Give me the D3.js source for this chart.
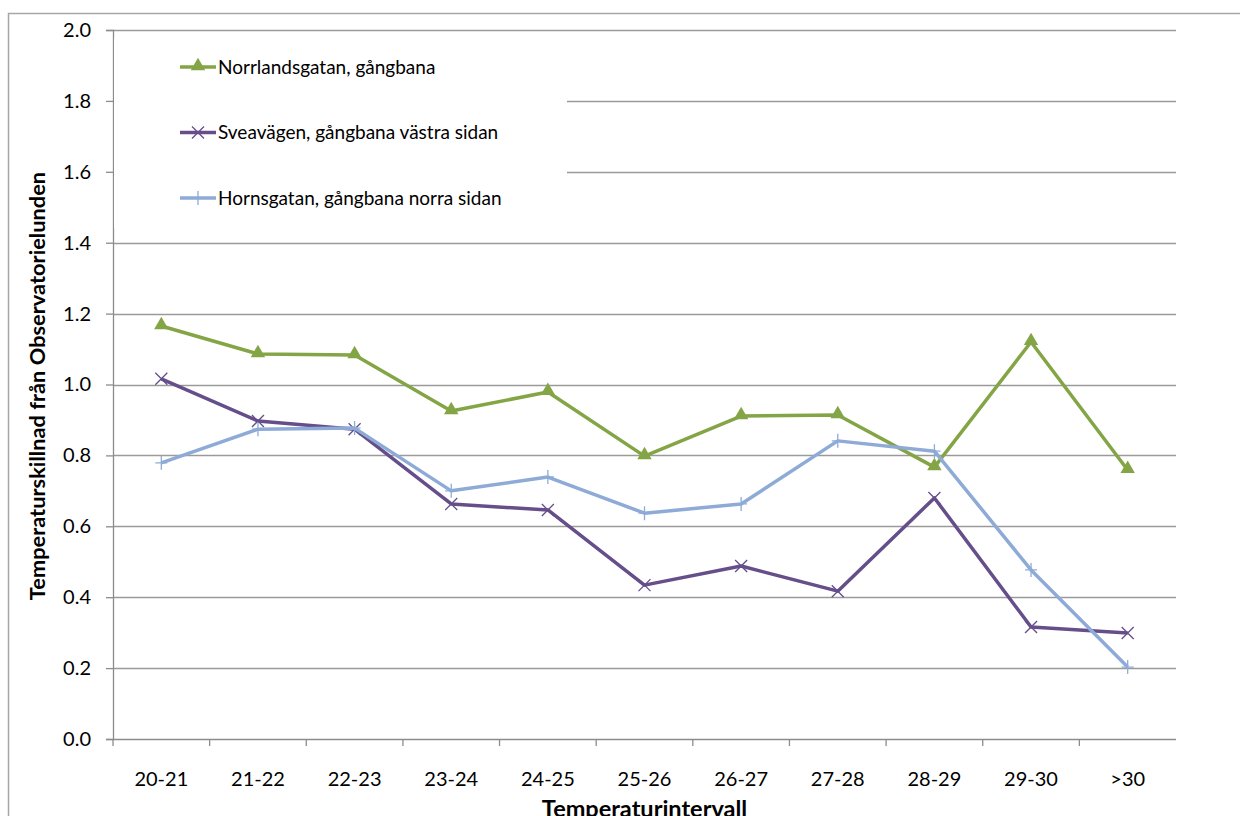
<!DOCTYPE html>
<html>
<head>
<meta charset="utf-8">
<script src="https://cdnjs.cloudflare.com/ajax/libs/d3/7.8.5/d3.min.js"></script>
<style>
	body{margin:0;background:#fff}
	text{font-family:Lato,"Open Sans",sans-serif;fill:#000}
</style>
</head>
<body>
<svg id="chart" width="1240" height="816"></svg>
<script>
var categories = ['20-21','21-22','22-23','23-24','24-25','25-26','26-27','27-28','28-29','29-30','>30']
var norrlandsgatan = [1.165,1.086,1.083,0.925,0.979,0.798,0.911,0.914,0.767,1.120,0.759]
var sveavagen      = [1.016,0.897,0.874,0.663,0.646,0.434,0.488,0.417,0.680,0.316,0.299]
var hornsgatan     = [0.779,0.874,0.877,0.700,0.739,0.637,0.663,0.841,0.812,0.477,0.203]
var yTicks = [0,0.2,0.4,0.6,0.8,1.0,1.2,1.4,1.6,1.8,2.0]

var series = [
	{name:'Norrlandsgatan, gångbana',          values:norrlandsgatan, color:'#84a546', marker:'triangle'},
	{name:'Sveavägen, gångbana västra sidan',  values:sveavagen,      color:'#654e8a', marker:'cross'},
	{name:'Hornsgatan, gångbana norra sidan',  values:hornsgatan,     color:'#8eabd7', marker:'plus'}
]

var svg = d3.select('#chart')
var pLeft = 113, pRight = 1176, pTop = 30, pBottom = 739

// outer chart border
svg.append('rect').attr('x',8.5).attr('y',13.5).attr('width',1240).attr('height',820)
	.style('fill','none').style('stroke','#a6a6a6').style('stroke-width',1.5)

var x = d3.scaleBand().domain(categories).range([pLeft,pRight])
var y = d3.scaleLinear().domain([0,2]).range([pBottom,pTop])

// gridlines
var grid = svg.append('g').attr('id','grid')
yTicks.forEach(function(e){
	if(e==0) return
	grid.append('line')
		.attr('x1',pLeft).attr('x2',pRight)
		.attr('y1',Math.round(y(e))+0.5).attr('y2',Math.round(y(e))+0.5)
		.style('stroke','#9a9a9a').style('stroke-width',1.3)
})

// axes
var yAxis = svg.append('g').attr('transform','translate('+pLeft+',0)')
	.call(d3.axisLeft(y).tickValues(yTicks).tickFormat(d3.format('.1f')).tickSize(7).tickPadding(15))
var xAxis = svg.append('g').attr('transform','translate(0,'+pBottom+')')
	.call(d3.axisBottom(x).tickSize(0).tickPadding(33))
xAxis.selectAll('.tick').append('line')
	.attr('x1',-x.bandwidth()/2).attr('x2',-x.bandwidth()/2).attr('y1',0).attr('y2',7)
xAxis.append('line').attr('x1',pRight).attr('x2',pRight).attr('y1',0).attr('y2',7)
svg.selectAll('.domain').style('stroke','#8c8c8c').style('stroke-width',1.3)
svg.selectAll('.tick line').style('stroke','#8c8c8c').style('stroke-width',1.3)
svg.selectAll('.tick text').style('font-size','20px').style('font-family','Lato,sans-serif').style('fill','#000')
xAxis.select('.domain').attr('d','M'+pLeft+',0.5H'+pRight)

// axis titles
svg.append('text').text('Temperaturintervall')
	.attr('x',(pLeft+pRight)/2).attr('y',817).attr('text-anchor','middle')
	.style('font-weight','bold').style('font-size','23.5px')
svg.append('text').text('Temperaturskillnad från Observatorielunden')
	.attr('transform','translate(45,386) rotate(-90)')
	.attr('text-anchor','middle')
	.style('font-weight','bold').style('font-size','21.8px')

// markers
function drawMarker(g,type,cx,cy,color){
	if(type=='triangle'){
		g.append('path').attr('d',d3.symbol().type(d3.symbolTriangle).size(90)())
			.attr('transform','translate('+cx+','+(cy-1)+')').style('fill',color)
	} else if(type=='cross'){
		g.append('path').attr('d','M-6,-6L6,6M-6,6L6,-6')
			.attr('transform','translate('+cx+','+cy+')').style('stroke',color).style('stroke-width',1.3).style('fill','none')
	} else {
		g.append('path').attr('d','M-6,0H6M0,-7V7')
			.attr('transform','translate('+cx+','+cy+')').style('stroke',color).style('stroke-width',1.3).style('fill','none')
	}
}

var lines = svg.append('g').attr('id','lines')
series.forEach(function(se,si){
	var g = lines.append('g').attr('id','series-'+si)
	g.append('path').datum(se.values)
		.attr('d',d3.line()
			.x(function(d,i){return x(categories[i])+x.bandwidth()/2})
			.y(function(d){return y(d)}))
		.style('fill','none').style('stroke',se.color).style('stroke-width',3.5).style('stroke-linejoin','round')
	se.values.forEach(function(d,i){
		drawMarker(g,se.marker,x(categories[i])+x.bandwidth()/2,y(d),se.color)
	})
})

// legend (white box hides gridlines behind it)
var legend = svg.append('g').attr('id','legend')
legend.append('rect').attr('x',pLeft+1).attr('y',pTop+8).attr('width',453).attr('height',190).style('fill','#fff')
series.forEach(function(se,si){
	var ly = 67 + si*65.5
	legend.append('line').attr('x1',180).attr('x2',216).attr('y1',ly).attr('y2',ly)
		.style('stroke',se.color).style('stroke-width',3.5)
	drawMarker(legend,se.marker,198,ly,se.color)
	legend.append('text').text(se.name).attr('x',218).attr('y',ly+6.5).style('font-size','19px')
})
</script>
</body>
</html>
